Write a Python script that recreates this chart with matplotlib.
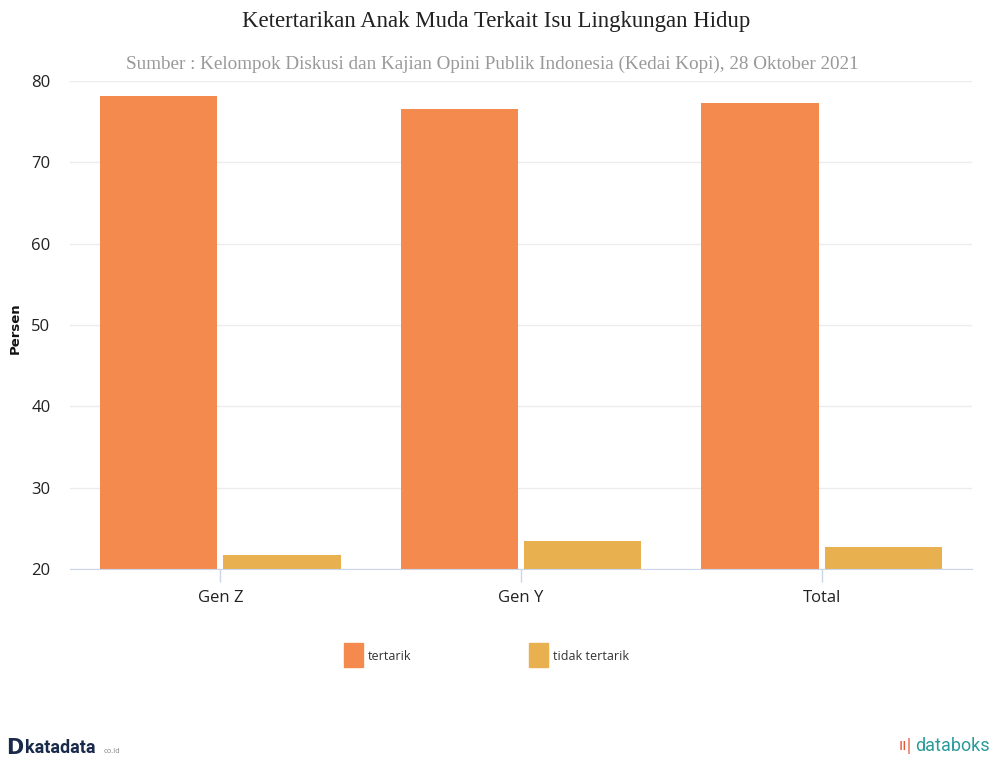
import matplotlib
matplotlib.use("Agg")
import matplotlib.pyplot as plt
import numpy as np
from matplotlib.patches import Rectangle

categories = ["Gen Z", "Gen Y", "Total"]
tertarik = [78.2, 76.6, 77.3]
tidak_tertarik = [21.7, 23.4, 22.7]
yticks = [20, 30, 40, 50, 60, 70, 80]
series_names = ["tertarik", "tidak tertarik"]
colors = ["#F58A4F", "#E8B04F"]

W, H = 992, 760
fig = plt.figure(figsize=(W / 100, H / 100), dpi=100)
ax = fig.add_axes([70 / W, 1 - 569 / H, 902 / W, (569 - 81) / H])

x = np.arange(len(categories))
bw = 0.39
off = 0.205
ax.bar(x - off, [v - 20 for v in tertarik], bottom=20, width=bw, color=colors[0], zorder=2)
ax.bar(x + off, [v - 20 for v in tidak_tertarik], bottom=20, width=bw, color=colors[1], zorder=2)

ax.set_xlim(-0.5, len(categories) - 0.5)
ax.set_ylim(20, 80)
ax.set_yticks(yticks)
ax.set_yticklabels([str(t) for t in yticks], fontsize=12, color="#222222", family="Open Sans")
ax.set_xticks(x)
ax.set_xticklabels(categories, fontsize=12, color="#222222", family="Open Sans")
ax.tick_params(axis="y", length=0, pad=14)
ax.tick_params(axis="x", length=9, color="#ccd6eb", pad=6, width=1)
ax.grid(axis="y", color="#ececec", linewidth=1, zorder=0)
for s in ["top", "right", "left"]:
    ax.spines[s].set_visible(False)
ax.spines["bottom"].set_color("#ccd6eb")
ax.spines["bottom"].set_zorder(3)

fig.text(15 / W, 1 - 328 / H, "Persen", rotation=90, ha="center", va="center",
         fontsize=9.5, fontweight="bold", color="#111111", family="DejaVu Sans")

fig.text(496 / W, 1 - 22 / H, "Ketertarikan Anak Muda Terkait Isu Lingkungan Hidup",
         ha="center", va="center", fontsize=16.4, color="#222222", family="Liberation Serif")
fig.text(492 / W, 1 - 64 / H,
         "Sumber : Kelompok Diskusi dan Kajian Opini Publik Indonesia (Kedai Kopi), 28 Oktober 2021",
         ha="center", va="center", fontsize=13.8, color="#999999", family="Liberation Serif")

# legend
leg_items = [(344, series_names[0], colors[0]), (529, series_names[1], colors[1])]
for px, name, c in leg_items:
    fig.patches.append(Rectangle((px / W, 1 - 667 / H), 19 / W, 24 / H,
                                 transform=fig.transFigure, color=c))
    fig.text((px + 24) / W, 1 - 656 / H, name, ha="left", va="center",
             fontsize=9, color="#333333", family="Open Sans")

# logos as text
fig.text(6 / W, 1 - 748 / H, "D", ha="left", va="center", fontsize=15,
         fontweight="bold", color="#1a2a4a", family="DejaVu Sans")
fig.text(25 / W, 1 - 748 / H, "katadata", ha="left", va="center", fontsize=13,
         fontweight="bold", color="#1a2a4a", family="Roboto")
fig.text(104 / W, 1 - 751 / H, "co.id", ha="left", va="center", fontsize=5,
         color="#888888", family="DejaVu Sans")
fig.text(899 / W, 1 - 746 / H, "ıı|", ha="left", va="center", fontsize=11,
         color="#e8553a", family="DejaVu Sans")
fig.text(990 / W, 1 - 746 / H, "databoks", ha="right", va="center", fontsize=13,
         color="#2a9a9a", family="Roboto")

fig.savefig("out.png", dpi=100, facecolor="white")
